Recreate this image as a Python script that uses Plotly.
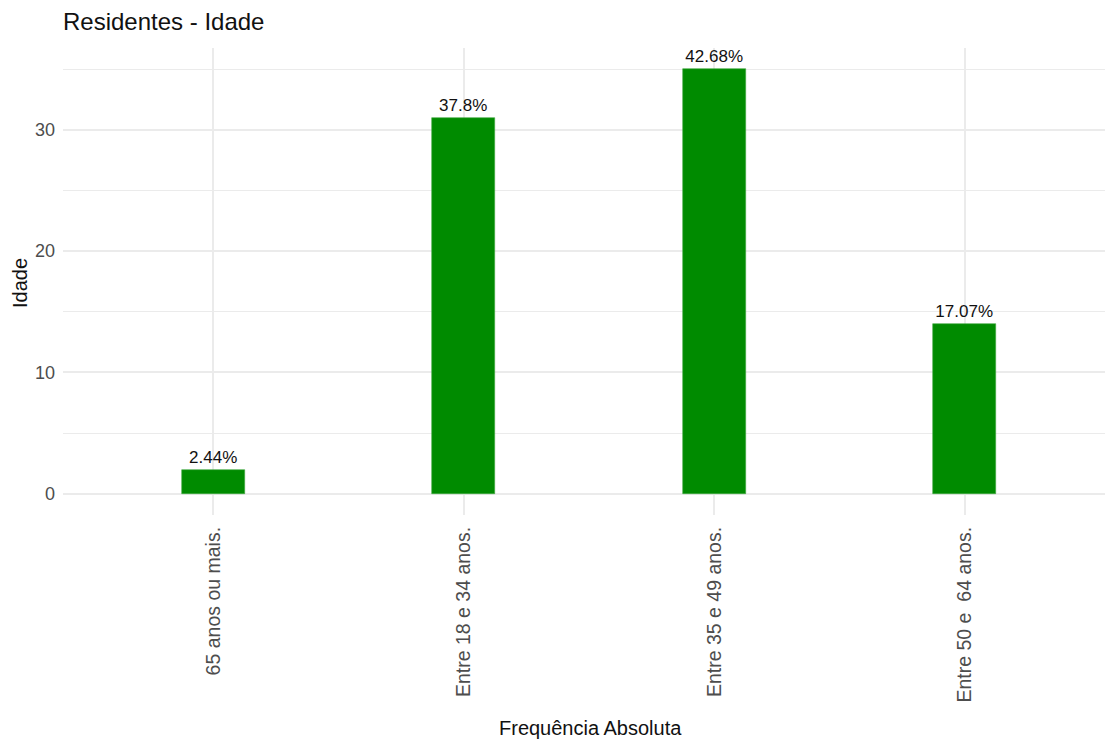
import plotly.graph_objects as go

# Age groups of residents and their absolute frequencies
faixas = ["65 anos ou mais.", "Entre 18 e 34 anos.", "Entre 35 e 49 anos.", "Entre 50 e  64 anos."]
frequencias = [2, 31, 35, 14]
percentuais = ["2.44%", "37.8%", "42.68%", "17.07%"]

FONT = "Liberation Sans, Arial, sans-serif"
GRID = "#ebebeb"
W, H = 1105, 743
L, R, T, B = 63, 0, 48, 228

fig = go.Figure(
    go.Bar(
        x=faixas,
        y=frequencias,
        width=0.25,
        marker=dict(color="#008B00", line=dict(color="#3fa83f", width=0.6)),
        text=percentuais,
        textposition="outside",
        cliponaxis=False,
        textfont=dict(family=FONT, size=17, color="#111111"),
    )
)

fig.update_layout(
    width=W,
    height=H,
    margin=dict(l=L, r=R, t=T, b=B),
    plot_bgcolor="white",
    paper_bgcolor="white",
    showlegend=False,
    bargap=0,
    title=dict(
        text="Residentes - Idade",
        x=L / W,
        xanchor="left",
        y=1 - 22 / H,
        yanchor="middle",
        font=dict(family=FONT, size=24, color="#111111"),
    ),
    annotations=[
        dict(
            text="Frequência Absoluta",
            xref="paper", yref="paper",
            x=(590 - L) / (W - L - R),
            y=-(728 - (H - B)) / (H - T - B),
            xanchor="center", yanchor="middle",
            showarrow=False,
            font=dict(family=FONT, size=20, color="#111111"),
        ),
        dict(
            text="Idade",
            xref="paper", yref="paper",
            x=-(L - 20) / (W - L - R),
            y=(H - B - 283) / (H - T - B),
            xanchor="center", yanchor="middle",
            textangle=-90,
            showarrow=False,
            font=dict(family=FONT, size=20, color="#111111"),
        ),
    ],
)

fig.update_xaxes(
    range=[-0.6, 3.56],
    showgrid=True,
    gridcolor=GRID,
    gridwidth=1.5,
    zeroline=False,
    showline=False,
    ticks="",
    tickangle=-90,
    ticklabelstandoff=7,
    tickfont=dict(family=FONT, size=19.5, color="#4d4d4d"),
)

fig.update_yaxes(
    range=[-1.75, 36.75],
    tickvals=[0, 10, 20, 30],
    showgrid=True,
    gridcolor=GRID,
    gridwidth=1.5,
    minor=dict(tickvals=[5, 15, 25, 35], showgrid=True, gridcolor=GRID, gridwidth=1.2),
    zeroline=False,
    showline=False,
    ticks="",
    ticklabelstandoff=7,
    tickfont=dict(family=FONT, size=18, color="#4d4d4d"),
)

fig.write_html("out.html")
